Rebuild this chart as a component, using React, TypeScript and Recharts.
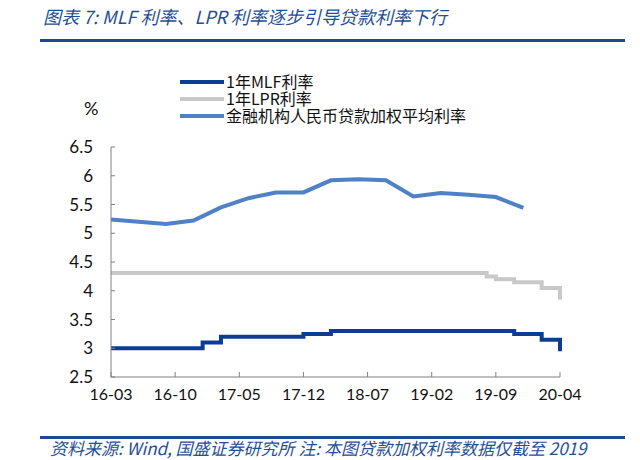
import React from 'react';
import { LineChart, Line, XAxis, YAxis } from 'recharts';

// 月度横轴
const months = [
  '16-03', '16-04', '16-05', '16-06', '16-07', '16-08', '16-09', '16-10', '16-11', '16-12',
  '17-01', '17-02', '17-03', '17-04', '17-05', '17-06', '17-07', '17-08', '17-09', '17-10', '17-11', '17-12',
  '18-01', '18-02', '18-03', '18-04', '18-05', '18-06', '18-07', '18-08', '18-09', '18-10', '18-11', '18-12',
  '19-01', '19-02', '19-03', '19-04', '19-05', '19-06', '19-07', '19-08', '19-09', '19-10', '19-11', '19-12',
  '20-01', '20-02', '20-03', '20-04',
];

// 1年MLF利率
const mlfRate = [
  3.0, 3.0, 3.0, 3.0, 3.0, 3.0, 3.0, 3.0, 3.0, 3.0,
  3.1, 3.1, 3.2, 3.2, 3.2, 3.2, 3.2, 3.2, 3.2, 3.2, 3.2, 3.25,
  3.25, 3.25, 3.3, 3.3, 3.3, 3.3, 3.3, 3.3, 3.3, 3.3, 3.3, 3.3,
  3.3, 3.3, 3.3, 3.3, 3.3, 3.3, 3.3, 3.3, 3.3, 3.3, 3.25, 3.25,
  3.25, 3.15, 3.15, 2.95,
];

// 1年LPR利率
const lprRate = [
  4.31, 4.31, 4.31, 4.31, 4.31, 4.31, 4.31, 4.31, 4.31, 4.31,
  4.31, 4.31, 4.31, 4.31, 4.31, 4.31, 4.31, 4.31, 4.31, 4.31, 4.31, 4.31,
  4.31, 4.31, 4.31, 4.31, 4.31, 4.31, 4.31, 4.31, 4.31, 4.31, 4.31, 4.31,
  4.31, 4.31, 4.31, 4.31, 4.31, 4.31, 4.31, 4.25, 4.2, 4.2, 4.15, 4.15,
  4.15, 4.05, 4.05, 3.85,
];

// 金融机构人民币贷款加权平均利率（季度）
const loanMonths = [
  '16-03', '16-06', '16-09', '16-12', '17-03', '17-06', '17-09', '17-12',
  '18-03', '18-06', '18-09', '18-12', '19-03', '19-06', '19-09', '19-12',
];
const loanRate = [5.24, 5.2, 5.16, 5.22, 5.45, 5.61, 5.71, 5.71, 5.92, 5.94, 5.92, 5.64, 5.7, 5.67, 5.63, 5.44];

const yTicks = [2.5, 3, 3.5, 4, 4.5, 5, 5.5, 6, 6.5];
const seriesNames = ['1年MLF利率', '1年LPR利率', '金融机构人民币贷款加权平均利率'];
const seriesColors = ['#0b3e92', '#c8c8c8', '#4f81c6'];

const data = months.map((m, i) => {
  const q = loanMonths.indexOf(m);
  return {
    month: m,
    mlf: mlfRate[i],
    lpr: lprRate[i],
    loan: q >= 0 ? loanRate[q] : null,
  };
});

const FONT = "Lato, 'Noto Sans CJK SC', sans-serif";
const CJK = "'Noto Sans CJK SC', Lato, sans-serif";

export default function App() {
  return (
    <div style={{ position: 'absolute', left: 0, top: 0, width: 640, height: 460, background: '#fff', overflow: 'hidden', fontFamily: FONT }}>
      <div style={{ position: 'absolute', left: 43, top: 7, fontSize: 18, fontStyle: 'italic', color: '#1f4f96', whiteSpace: 'nowrap', fontFamily: CJK, lineHeight: 1.1 }}>
        图表 7: MLF 利率、LPR 利率逐步引导贷款利率下行
      </div>
      <div style={{ position: 'absolute', left: 40, top: 39, width: 585, height: 3, background: '#1d4a8e' }} />

      <div style={{ position: 'absolute', left: 180, top: 73, fontSize: 16, color: '#111', fontFamily: CJK, lineHeight: '17px' }}>
        {seriesNames.map((name, i) => (
          <div key={name} style={{ display: 'flex', alignItems: 'center', height: 17 }}>
            <span style={{ display: 'inline-block', width: 44, height: 4, background: seriesColors[i], marginRight: 2 }} />
            <span style={{ whiteSpace: 'nowrap' }}>{name}</span>
          </div>
        ))}
      </div>
      <div style={{ position: 'absolute', left: 84, top: 97, fontSize: 18, color: '#111' }}>%</div>

      <LineChart width={640} height={460} data={data} margin={{ top: 147, right: 80, bottom: 53, left: 51 }}>
        <XAxis
          dataKey="month"
          interval={6}
          height={30}
          tickSize={-5}
          tickMargin={17}
          axisLine={{ stroke: '#808080' }}
          tickLine={{ stroke: '#808080' }}
          tick={{ fill: '#111', fontSize: 16, fontFamily: FONT }}
        />
        <YAxis
          domain={[2.5, 6.5]}
          ticks={yTicks}
          width={60}
          tickSize={-4}
          tickMargin={22}
          axisLine={{ stroke: '#808080' }}
          tickLine={{ stroke: '#808080' }}
          tick={{ fill: '#111', fontSize: 17, fontFamily: FONT }}
        />
        <Line dataKey="lpr" type="stepAfter" stroke={seriesColors[1]} strokeWidth={4} dot={false} isAnimationActive={false} />
        <Line dataKey="mlf" type="stepAfter" stroke={seriesColors[0]} strokeWidth={4} dot={false} isAnimationActive={false} />
        <Line dataKey="loan" type="linear" connectNulls stroke={seriesColors[2]} strokeWidth={4} dot={false} isAnimationActive={false} />
      </LineChart>

      <div style={{ position: 'absolute', left: 40, top: 436, width: 585, height: 3, background: '#1d4a8e' }} />
      <div style={{ position: 'absolute', left: 50, top: 439, fontSize: 17, fontStyle: 'italic', color: '#1f4f96', whiteSpace: 'nowrap', fontFamily: CJK, lineHeight: 1 }}>
        资料来源: Wind, 国盛证券研究所 注: 本图贷款加权利率数据仅截至 2019
      </div>
    </div>
  );
}
